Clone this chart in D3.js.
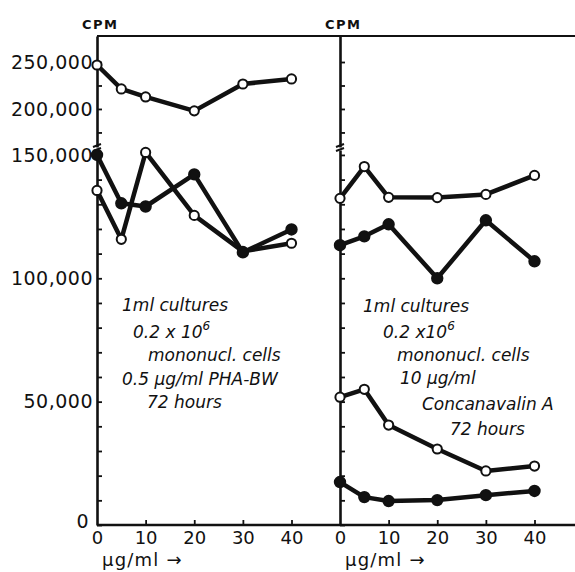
<!DOCTYPE html>
<html>
<head>
<meta charset="utf-8">
<script src="https://cdn.jsdelivr.net/npm/d3@7"></script>
<style>
  html, body { margin: 0; padding: 0; background: #fff; }
  svg { display: block; }
  .lbl { font-family: "DejaVu Sans", sans-serif; fill: #111; }
  .note { font-family: "DejaVu Sans", sans-serif; font-style: italic; font-size: 17px; fill: #111; }
</style>
</head>
<body>
<svg id="chart" width="575" height="572"></svg>
<script>
// Inhibitor dose (µg/ml) and x-axis ticks
const doses = [0, 5, 10, 20, 30, 40];
const xTickValues = [0, 10, 20, 30, 40];

// Left panel: PHA-BW stimulated cultures (CPM)
const phaOpenHigh = [246800, 221300, 212800, 198000, 226600, 232000];
const phaOpenLow  = [135600, 115800, 151000, 125500, 110900, 114200];
const phaFilled   = [150000, 130400, 129100, 142100, 110500, 119800];

// Right panel: Concanavalin A stimulated cultures (CPM)
const conOpenHigh   = [132400, 145300, 132800, 132700, 134000, 141700];
const conFilledHigh = [113400, 117000, 121900, 100000, 123500, 106900];
const conOpenLow    = [51800, 55000, 40500, 30800, 21900, 23900];
const conFilledLow  = [17400, 11300, 9700, 10100, 12100, 13800];

// Y-axis ticks for the two segments of the broken axis
const lowerTicks = d3.range(0, 150001, 10000);
const lowerLabels = [0, 50000, 100000, 150000];
const upperTicks = [175000, 200000, 225000, 250000];
const upperLabels = [200000, 250000];

const svg = d3.select("#chart");
const fmt = d3.format(",");

const yLower = d3.scaleLinear().domain([0, 152000]).range([525, 150]);
const yUpper = d3.scaleLinear().domain([159500, 277700]).range([147, 36]);
const yOf = v => v > 155000 ? yUpper(v) : yLower(v);

const panels = [
  { x0: 97, labels: true,
    series: [
      { values: phaOpenHigh, filled: false },
      { values: phaOpenLow, filled: false },
      { values: phaFilled, filled: true }
    ] },
  { x0: 340, labels: false,
    series: [
      { values: conOpenHigh, filled: false },
      { values: conFilledHigh, filled: true },
      { values: conOpenLow, filled: false },
      { values: conFilledLow, filled: true }
    ] }
];

// Frame lines: top rule and x-axis baseline
svg.append("line").attr("x1", 97).attr("x2", 575).attr("y1", 36).attr("y2", 36)
  .attr("stroke", "#111").attr("stroke-width", 2);
svg.append("line").attr("x1", 97).attr("x2", 575).attr("y1", 525).attr("y2", 525)
  .attr("stroke", "#111").attr("stroke-width", 2.5);

panels.forEach(p => {
  const x = d3.scaleLinear().domain([0, 40]).range([p.x0, p.x0 + 194.5]);

  // Lower segment of the y axis
  const axL = d3.axisLeft(yLower).tickValues(lowerTicks).tickSizeInner(-5).tickSizeOuter(0)
    .tickPadding(4)
    .tickFormat(d => p.labels && lowerLabels.includes(d) ? fmt(d) : "");
  const gL = svg.append("g").attr("transform", `translate(${p.x0},0)`).call(axL);

  // Upper segment of the y axis
  const axU = d3.axisLeft(yUpper).tickValues(upperTicks).tickSizeInner(-5).tickSizeOuter(0)
    .tickPadding(4)
    .tickFormat(d => p.labels && upperLabels.includes(d) ? fmt(d) : "");
  const gU = svg.append("g").attr("transform", `translate(${p.x0},0)`).call(axU);

  [gL, gU].forEach(g => {
    g.select(".domain").attr("stroke", "#111").attr("stroke-width", 2.6);
    g.selectAll(".tick line").attr("stroke", "#111").attr("stroke-width", 1.8);
    g.selectAll(".tick text").attr("class", "lbl").style("font-size", "19px")
      .style("letter-spacing", "0.5px").attr("fill", "#111");
  });
  gL.selectAll(".tick text").filter(d => d === 0).attr("dy", "0.15em").attr("x", -8);

  // Break marks across the axis
  [145.5, 149.5].forEach(yy => {
    svg.append("line").attr("x1", p.x0 - 4).attr("x2", p.x0 + 4)
      .attr("y1", yy + 1.5).attr("y2", yy - 1.5)
      .attr("stroke", "#111").attr("stroke-width", 2);
  });

  // X axis ticks (pointing up) and labels
  const axX = d3.axisBottom(x).tickValues(xTickValues).tickSizeInner(-5).tickSizeOuter(0)
    .tickPadding(6).tickFormat(d3.format("d"));
  const gX = svg.append("g").attr("transform", "translate(0,525)").call(axX);
  gX.select(".domain").remove();
  gX.selectAll(".tick line").attr("stroke", "#111").attr("stroke-width", 1.8)
    .filter(d => d === 0).remove();
  gX.selectAll(".tick text").attr("class", "lbl").style("font-size", "18px").attr("fill", "#111");

  // Axis unit labels
  svg.append("text").attr("class", "lbl").attr("x", p.x0 + 5).attr("y", 566)
    .style("font-size", "18px").style("letter-spacing", "1.2px").text("μg/ml →");
  svg.append("text").attr("class", "lbl").attr("x", p.x0 - 15).attr("y", 29)
    .style("font-size", "13px").style("font-weight", "bold").style("letter-spacing", "1.5px")
    .text("CPM");

  // Data series
  const line = d3.line().x((d, i) => x(doses[i])).y(d => yOf(d));
  p.series.forEach(s => {
    svg.append("path").datum(s.values).attr("d", line)
      .attr("fill", "none").attr("stroke", "#111").attr("stroke-width", 4.5)
      .attr("stroke-linejoin", "round");
  });
  p.series.forEach(s => {
    svg.append("g").selectAll("circle").data(s.values).join("circle")
      .attr("cx", (d, i) => x(doses[i])).attr("cy", d => yOf(d))
      .attr("r", s.filled ? 5.2 : 4.6)
      .attr("fill", s.filled ? "#111" : "#fff")
      .attr("stroke", "#111").attr("stroke-width", 2);
  });
});

// Culture conditions
function note(x, y, parts) {
  const t = svg.append("text").attr("class", "note").attr("x", x).attr("y", y);
  parts.forEach(pt => {
    if (typeof pt === "string") t.append("tspan").text(pt);
    else t.append("tspan").attr("dy", pt.dy).style("font-size", pt.size + "px").text(pt.text);
  });
}
note(122, 311, ["1ml cultures"]);
note(133, 338, ["0.2 x 10", { text: "6", dy: -8, size: 12 }]);
note(148, 361, ["mononucl. cells"]);
note(122, 385, ["0.5 μg/ml PHA-BW"]);
note(147, 408, ["72 hours"]);

note(363, 312, ["1ml cultures"]);
note(383, 338, ["0.2 x10", { text: "6", dy: -8, size: 12 }]);
note(397, 361, ["mononucl. cells"]);
note(400, 384, ["10 μg/ml"]);
note(422, 410, ["Concanavalin A"]);
note(450, 435, ["72 hours"]);
</script>
</body>
</html>
